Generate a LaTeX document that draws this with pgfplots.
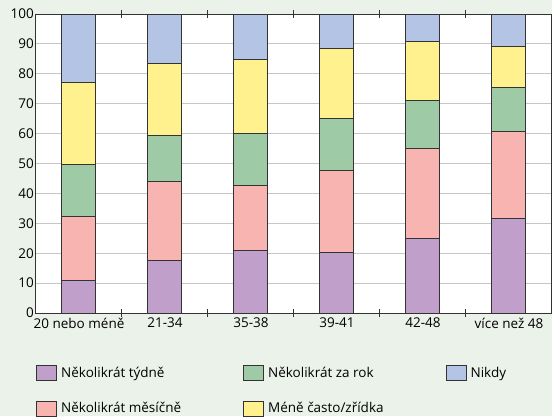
\documentclass[border=0pt]{standalone}
\usepackage{fontspec}
\setmainfont{Open Sans}
\usepackage{pgfplots}
\pgfplotsset{compat=1.18}
\definecolor{bg}{HTML}{EBF2EA}
\definecolor{cpurple}{HTML}{C09FCA}
\definecolor{cpink}{HTML}{F8B4B0}
\definecolor{cgreen}{HTML}{9ECAA6}
\definecolor{cyellow}{HTML}{FFF28E}
\definecolor{cblue}{HTML}{B3C4E4}
\definecolor{edge}{HTML}{333333}
\begin{document}
\fontsize{13.5}{16}\selectfont
\begin{tikzpicture}
\fill[bg] (-36pt,-103pt) rectangle (516pt,313pt);
\begin{axis}[
  scale only axis, width=516pt, height=299pt,
  at={(0pt,0pt)}, anchor=south west,
  ybar stacked, bar width=34pt,
  xmin=-0.5, xmax=5.5, ymin=0, ymax=100,
  xtick={0,...,5},
  xticklabels={20 nebo méně,21-34,35-38,39-41,42-48,více než 48},
  ytick={0,10,...,100},
  major tick length=0pt,
  extra x ticks={0.5,1.5,2.5,3.5,4.5},
  extra x tick labels={},
  extra x tick style={major tick length=8pt, tick align=center, grid=none},
  tick style={edge, line width=1pt},
  ymajorgrids,
  grid style={black!22, line width=1pt},
  axis line style={edge, line width=1pt},
  axis background/.style={fill=white},
  /pgf/number format/assume math mode=true,
  ticklabel style={font=\fontsize{13.5}{16}\selectfont, text=black},
  yticklabel style={inner sep=2pt},
  xticklabel style={inner sep=2pt, yshift=-3pt},
  every axis plot/.append style={draw=edge, line width=1pt},
  legend columns=3,
  legend cell align=left,
  legend style={at={(axis description cs:0,-0.174)}, anchor=north west,
    draw=none, fill=none, inner sep=0pt, font=\fontsize{13.5}{16}\selectfont,
    /tikz/every odd column/.append style={column sep=2pt},
    /tikz/every even column/.append style={column sep=60pt},
    /tikz/column 4/.append style={column sep=67pt},
    row sep=19pt},
  legend image code/.code={\draw[#1, draw=edge, line width=1pt] (0pt,-7.5pt) rectangle (20pt,7.5pt);},
]
\addplot[fill=cpurple, forget plot] coordinates {(0,11.0) (1,17.7) (2,20.8) (3,20.2) (4,24.8) (5,31.5)};
\addplot[fill=cpink, forget plot] coordinates {(0,21.4) (1,26.3) (2,21.9) (3,27.6) (4,30.2) (5,29.3)};
\addplot[fill=cgreen, forget plot] coordinates {(0,17.1) (1,15.4) (2,17.4) (3,17.1) (4,16.0) (5,14.7)};
\addplot[fill=cyellow, forget plot] coordinates {(0,27.5) (1,24.1) (2,24.7) (3,23.7) (4,19.7) (5,13.6)};
\addplot[fill=cblue, forget plot] coordinates {(0,23.0) (1,16.5) (2,15.2) (3,11.4) (4,9.3) (5,10.9)};
\addlegendimage{fill=cpurple}\addlegendentry{Několikrát týdně}
\addlegendimage{fill=cgreen}\addlegendentry{Několikrát za rok}
\addlegendimage{fill=cblue}\addlegendentry{Nikdy}
\addlegendimage{fill=cpink}\addlegendentry{Několikrát měsíčně}
\addlegendimage{fill=cyellow}\addlegendentry{Méně často/zřídka}
\end{axis}
\pgfresetboundingbox
\path (-36pt,-103pt) rectangle (516pt,313pt);
\end{tikzpicture}
\end{document}
